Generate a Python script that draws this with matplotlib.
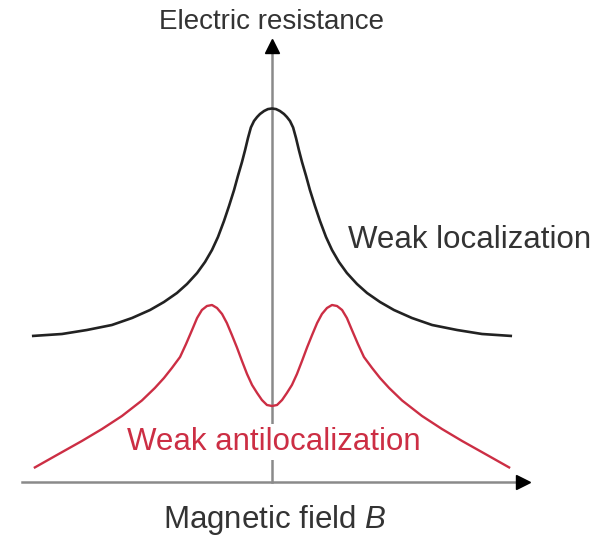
import numpy as np
import matplotlib
matplotlib.use("Agg")
import matplotlib.pyplot as plt

plt.rcParams['font.family'] = ['Liberation Sans', 'DejaVu Sans']
plt.rcParams['mathtext.fontset'] = 'custom'
plt.rcParams['mathtext.rm'] = 'Liberation Sans'
plt.rcParams['mathtext.it'] = 'Liberation Sans:italic'

# magnetic field B (arbitrary units) and resistance, B >= 0 half of each symmetric curve
b_wl = [0, 0.17, 0.33, 0.5, 0.62, 0.75, 0.88, 1.0, 1.12, 1.25, 1.42, 1.58, 1.79, 2.0,
        2.25, 2.5, 2.79, 3.12, 3.54, 3.96, 4.5, 5.08, 5.83, 6.67, 7.71, 8.75, 10.0]
r_wl = [37.35, 37.29, 37.1, 36.8, 36.5, 36.1, 35.45, 34.4, 33.2, 32.0, 30.6, 29.2, 27.6, 26.1,
        24.5, 23.2, 22.0, 20.9, 19.8, 18.9, 18.0, 17.2, 16.4, 15.7, 15.2, 14.8, 14.6]

b_wal = [0, 0.21, 0.42, 0.62, 0.83, 1.04, 1.25, 1.46, 1.67, 1.88, 2.08, 2.29, 2.5, 2.71,
         2.92, 3.12, 3.33, 3.58, 3.83, 4.17, 4.5, 4.88, 5.42, 6.25, 7.08, 7.92, 8.96, 9.92]
r_wal = [7.6, 7.7, 8.2, 8.9, 9.7, 10.8, 12.1, 13.45, 14.7, 15.9, 16.8, 17.4, 17.7, 17.6,
         17.2, 16.4, 15.2, 13.8, 12.5, 11.4, 10.4, 9.4, 8.15, 6.6, 5.3, 4.1, 2.7, 1.4]


def mirror(b, r):
    b = np.asarray(b, dtype=float)
    r = np.asarray(r, dtype=float)
    return np.concatenate([-b[:0:-1], b]), np.concatenate([r[:0:-1], r])


fig = plt.figure(figsize=(6.04, 5.37), dpi=100)
ax = fig.add_axes([0, 0, 1, 1])
ax.set_xlim(-11.33, 13.83)
ax.set_ylim(-5.5, 48.2)
ax.axis('off')

axis_col = '#8a8a8a'
text_col = '#333333'
red = '#cc2e44'

# axes with arrowheads
ax.plot([-10.42, 10.4], [0, 0], color=axis_col, lw=1.8, zorder=1)
ax.plot([0, 0], [0, 43.6], color=axis_col, lw=1.8, zorder=1)
ax.plot([10.45], [0], marker='>', color='black', markersize=10, zorder=2)
ax.plot([0], [43.6], marker='^', color='black', markersize=10, zorder=2)

bx, ry = mirror(b_wl, r_wl)
ax.plot(bx, ry, color='#222222', lw=1.9, solid_joinstyle='round',
        solid_capstyle='butt', zorder=3)
bx, ry = mirror(b_wal, r_wal)
ax.plot(bx, ry, color=red, lw=1.7, solid_joinstyle='round',
        solid_capstyle='butt', zorder=3)

ax.text(0, 46.0, 'Electric resistance', ha='center', va='center',
        fontsize=20, color=text_col)
ax.text(3.17, 24.2, 'Weak localization', ha='left', va='center',
        fontsize=22.5, color=text_col)
ax.text(-6.04, 4.0, 'Weak antilocalization', ha='left', va='center',
        fontsize=22.5, color=red, zorder=4,
        bbox=dict(facecolor='white', edgecolor='none', pad=2))
ax.text(0.1, -3.8, 'Magnetic field $\\it{B}$', ha='center', va='center',
        fontsize=22.5, color=text_col)

fig.savefig('out.png', dpi=100)
